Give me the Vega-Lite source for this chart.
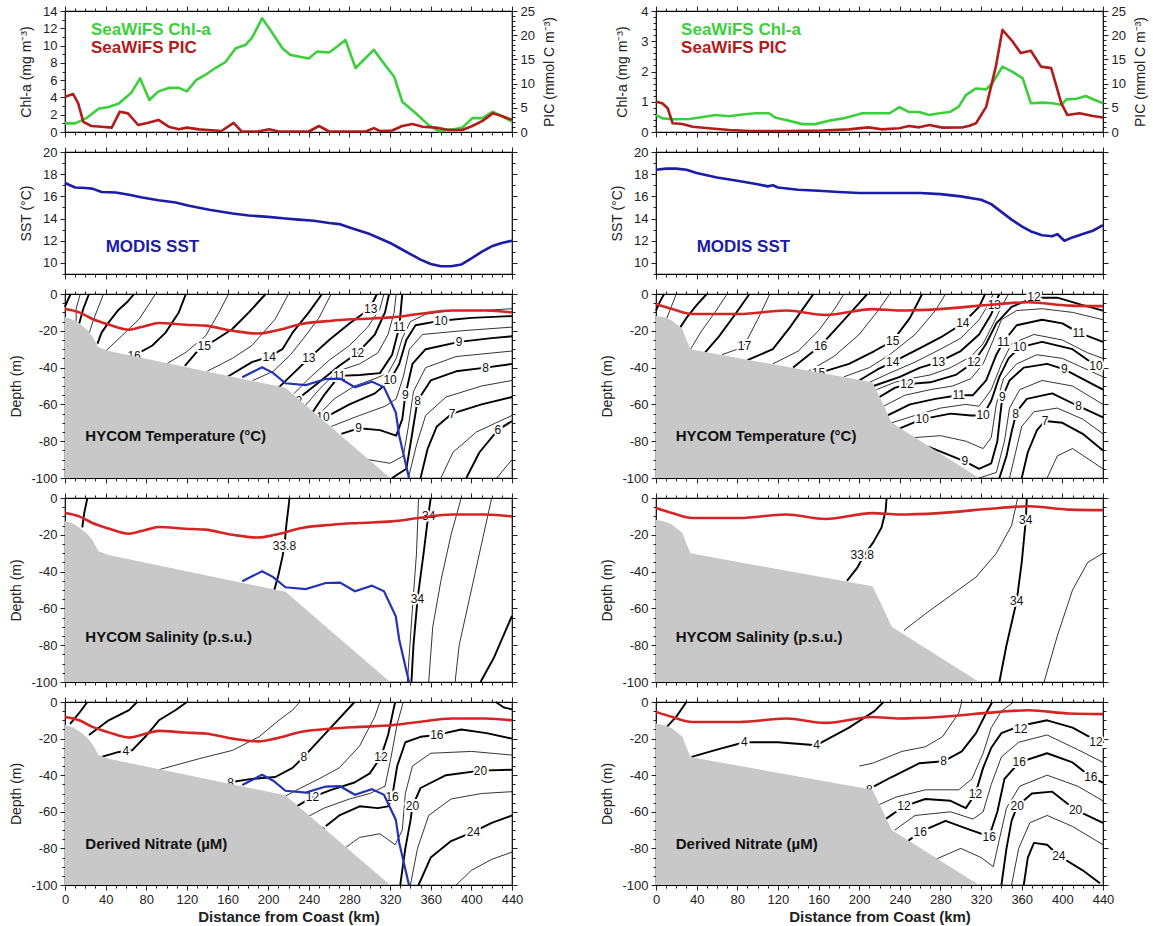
{
  "$schema": "https://vega.github.io/schema/vega-lite/v6.json",
  "background": "white",
  "padding": {"left": 9, "top": 4, "right": 5, "bottom": 2},
  "config": {
    "view": {"stroke": "black", "strokeWidth": 1.2},
    "font": "Liberation Sans",
    "axis": {"domain": false, "grid": false, "labelOverlap": false, "labelFlush": false, "labelFont": "Liberation Sans", "labelFontSize": 13, "labelColor": "#222", "tickColor": "#222", "titleFont": "Liberation Sans", "titleFontSize": 14, "titleFontWeight": "normal", "titleColor": "#222", "labelPadding": 3, "titlePadding": 7}
  },
  "datasets": {
    "chlL": [{"x": [0,10,21,33,43,53,65,74,83,92,102,112,120,129,138,148,158,168,178,184,194,201,214,222,240,248,260,268,276,286,304,316,324,332,345,358,368,381,391,401,411,421,430,440], "v": [1.0,1.0,1.6,2.7,2.9,3.3,4.5,6.2,3.7,4.7,5.1,5.1,4.7,6.0,6.6,7.4,8.1,9.7,10.1,10.9,13.15,12.0,9.7,8.9,8.5,9.3,9.2,9.9,10.65,7.4,9.5,7.6,6.4,3.5,2.2,0.8,0.1,0.3,0.5,1.6,1.6,2.35,1.8,1.2]}],
    "picL": [{"x": [0,8,13,18,26,36,46,54,62,72,82,92,102,112,120,132,141,154,166,174,190,201,210,240,250,260,296,304,310,322,332,342,352,365,378,391,401,411,421,430,440], "v": [7.3,7.85,5.9,2.1,1.24,1.1,0.9,4.2,3.85,1.45,1.9,2.5,1.1,0.55,0.9,0.55,0.4,0.2,1.9,0.1,0.1,0.55,0.1,0.1,1.24,0.1,0.1,0.8,0.2,0.3,1.24,1.65,1.1,0.9,0.4,0.4,1.24,2.3,3.85,3.3,2.5]}],
    "chlR": [{"x": [0,6.5,16,33,43,59,72,85,98,111,118,131,144,157,170,184,197,203,216,230,239.5,249,259,269,279,289,298,305,315,325,331,341,351,361,369,381,390,399,404,414,423,432,440], "v": [0.56,0.45,0.42,0.43,0.48,0.56,0.52,0.58,0.62,0.62,0.47,0.37,0.26,0.26,0.37,0.45,0.56,0.62,0.62,0.62,0.82,0.66,0.66,0.56,0.62,0.66,0.84,1.22,1.44,1.41,1.61,2.16,1.99,1.77,0.95,0.97,0.95,0.9,1.08,1.1,1.19,1.06,0.95]}],
    "picR": [{"x": [0,6.5,11.5,16.4,26,36,52,72,92,131,164,190,209,222,239.5,249,259,269,282,302,308,315,325,334.5,341,351,359,369,379,389,399,405,417,430,440], "v": [6.3,5.9,4.9,1.8,1.65,1.1,0.76,0.4,0.2,0.2,0.3,0.55,0.96,0.55,0.76,1.24,0.96,1.45,0.9,0.96,1.24,1.8,5.2,13.5,21.1,18.7,16.3,16.8,13.5,13.2,5.9,3.5,3.86,3.3,3.0]}],
    "sstL": [{"x": [0,5,10,20,27,36,50,63,76,92,109,122,142,165,181,200,217,230,245,260,270,280,290,300,310,320,330,340,350,360,370,380,390,400,410,420,430,440], "v": [17.2,17.0,16.8,16.75,16.7,16.4,16.35,16.15,15.9,15.65,15.45,15.15,14.8,14.45,14.27,14.15,14.0,13.9,13.8,13.6,13.5,13.2,12.9,12.6,12.2,11.8,11.3,10.8,10.3,9.9,9.7,9.7,9.85,10.4,11.0,11.5,11.8,12.0]}],
    "sstR": [{"x": [0,10,20,30,40,60,80,100,110,115,120,140,160,180,200,220,240,260,280,300,320,330,340,350,360,370,380,390,395,402,410,420,430,440], "v": [18.4,18.5,18.5,18.4,18.1,17.7,17.4,17.1,16.9,17.0,16.8,16.6,16.5,16.4,16.3,16.3,16.3,16.3,16.2,16.0,15.7,15.3,14.6,13.9,13.3,12.8,12.5,12.4,12.6,12.0,12.3,12.6,12.9,13.4]}],
    "bathL": [{"x": [0,8,14,22,27,33,43,217,320], "d": [-12.5,-14,-16,-19.5,-23,-29,-31,-51,-100]}],
    "bathR": [{"x": [0,10,16,26,30,34,43,213,222,232,318], "d": [-11.8,-13,-14.5,-19,-25,-30,-31,-48,-58,-70,-100]}],
    "mldL": [{"x": [0,14,27,43,63,80,92,119,138,165,190,207,233,263,289,322,348,381,414,440], "d": [-8.2,-10,-13.6,-16.6,-19.4,-17.2,-15.8,-16.7,-17.2,-20,-21.5,-20,-16.3,-14.5,-13.6,-12.7,-10.9,-9,-9,-10]}],
    "mldR": [{"x": [0,16,36,82,128,167,213,239.5,279,338,367,407,440], "d": [-5.4,-8.2,-10.9,-10.9,-9,-11.4,-8.2,-9,-8.2,-5.4,-4.5,-6.3,-6.6]}],
    "blueL": [{"x": [174.5,194,205,217,237,256.6,270.7,285.4,302,314,325.6,329,338.6], "d": [-45.3,-39.8,-43,-48.5,-49.5,-46.2,-46,-50.7,-47.6,-50.7,-64.3,-77,-100]}],
    "tL": [
      {"c": "a", "lev": 19, "x": [0,3,5.6], "d": [-7,-3,0]},
      {"c": "b", "lev": 18.5, "x": [11,11,15], "d": [-15,-8,0]},
      {"c": "c", "lev": 18, "x": [14,18,23.6], "d": [-16,-8,0]},
      {"c": "d", "lev": 17.5, "x": [24,28,33,38], "d": [-21,-14,-7,0]},
      {"c": "e", "lev": 17, "x": [32,36,43,52,61,68], "d": [-27,-21,-15.4,-9,-4.5,0]},
      {"c": "f", "lev": 16.5, "x": [40,56,73,86,89], "d": [-31,-22.7,-13.6,-2.7,0]},
      {"c": "g", "lev": 16, "x": [62,68,86,99,112,119], "d": [-34,-33.5,-28,-21,-10,0]},
      {"c": "h", "lev": 15.5, "x": [100,119,138.5,151.6,161], "d": [-38,-31.7,-22.7,-10,0]},
      {"c": "i", "lev": 15, "x": [118,132,148,164.7,181,197.5], "d": [-39,-30,-25,-19,-10,0]},
      {"c": "j", "lev": 14.5, "x": [140,164.7,184,207,220], "d": [-42,-35,-28,-13.6,0]},
      {"c": "k", "lev": 14, "x": [160,184,201,214,224,240,253], "d": [-45,-37,-34,-30,-21,-10,0]},
      {"c": "l", "lev": 13.5, "x": [185,205,222,235,250,262], "d": [-47,-42,-33,-24,-13,0]},
      {"c": "m", "lev": 13, "x": [210,225,240,260,280,300,307], "d": [-51,-43,-35,-25,-16,-8,0]},
      {"c": "n", "lev": 12.5, "x": [222,240,260,280,298,310,314], "d": [-56,-46,-36,-28,-18,-8,0]},
      {"c": "o", "lev": 12, "x": [227,250,270,288,305,315,319], "d": [-58,-48,-39,-32,-22,-10,0]},
      {"c": "p", "lev": 11.5, "x": [236,250,268,290,308,318,324,326], "d": [-61,-52,-42,-38,-32,-22,-10,0]},
      {"c": "q", "lev": 11, "x": [244,255,270,290,310,322,329,332], "d": [-64,-55,-44.5,-44,-43,-33,-18,0]},
      {"c": "r", "lev": 10.5, "x": [249,265,285,305,318,326,332,340,355,380,410,440], "d": [-66,-57,-50,-46,-43,-35,-24,-15,-11,-9,-9,-8]},
      {"c": "s", "lev": 10, "x": [253,280,305,320,329,336,345,370,400,440], "d": [-68,-60,-54,-47,-38,-25,-17,-14.5,-13,-12]},
      {"c": "t", "lev": 9.5, "x": [262,290,315,326,333,339,352,390,440], "d": [-72,-66,-61,-57,-45,-30,-22,-20,-18]},
      {"c": "u", "lev": 9, "x": [272,289,310,326,332,335,342,355,388,420,440], "d": [-76,-73,-74,-77,-68,-55,-38,-30,-26,-24,-23]},
      {"c": "v", "lev": 8.5, "x": [298,320,333,338,343,355,385,440], "d": [-90,-92,-88,-72,-53,-40,-34,-31]},
      {"c": "w", "lev": 8, "x": [322,336,342,347,360,385,414,440], "d": [-100,-95,-75,-58,-47,-42,-40,-38]},
      {"c": "x", "lev": 7.5, "x": [338,346,355,375,410,440], "d": [-100,-82,-66,-56,-50,-47]},
      {"c": "y", "lev": 7, "x": [350,357,366,381,410,440], "d": [-100,-84,-72,-65,-60,-56]},
      {"c": "z", "lev": 6.5, "x": [370,382,405,440], "d": [-100,-86,-75,-66]},
      {"c": "A", "lev": 6, "x": [395,408,426,440], "d": [-100,-86,-74,-69]},
      {"c": "B", "lev": 5.5, "x": [425,440], "d": [-100,-90]}
    ],
    "tLlab": [{"x":68,"d":-33.5,"t":"16"},{"x":137,"d":-28.5,"t":"15"},{"x":201,"d":-34,"t":"14"},{"x":240,"d":-35,"t":"13"},{"x":301,"d":-8,"t":"13"},{"x":288,"d":-32,"t":"12"},{"x":227,"d":-58,"t":"12"},{"x":270,"d":-44.5,"t":"11"},{"x":329,"d":-18,"t":"11"},{"x":320,"d":-47,"t":"10"},{"x":254,"d":-67,"t":"10"},{"x":370,"d":-14.5,"t":"10"},{"x":289,"d":-73,"t":"9"},{"x":335,"d":-55,"t":"9"},{"x":388,"d":-26,"t":"9"},{"x":347,"d":-58,"t":"8"},{"x":414,"d":-40,"t":"8"},{"x":381,"d":-65,"t":"7"},{"x":426,"d":-74,"t":"6"}],
    "tR": [
      {"c": "a", "lev": 20, "x": [0,4,8], "d": [-9,-4,0]},
      {"c": "b", "lev": 19.5, "x": [10,15,20], "d": [-14,-7,0]},
      {"c": "c", "lev": 19, "x": [24,30,40,50], "d": [-18,-13,-6,0]},
      {"c": "d", "lev": 18.5, "x": [34,45,58,70], "d": [-30,-20,-10,0]},
      {"c": "e", "lev": 18, "x": [48,62,78,92], "d": [-32,-23,-11,0]},
      {"c": "f", "lev": 17.5, "x": [65,80,87,100,112], "d": [-33,-30,-27.7,-14,0]},
      {"c": "g", "lev": 17, "x": [90,115,132,146,155], "d": [-36,-30,-18,-7,0]},
      {"c": "h", "lev": 16.5, "x": [115,140,160,176,185], "d": [-38,-31,-20,-8,0]},
      {"c": "i", "lev": 16, "x": [135,162,182,200,208], "d": [-40,-28,-16,-5,0]},
      {"c": "j", "lev": 15.5, "x": [150,175,200,220,230], "d": [-42,-34,-22,-8,0]},
      {"c": "k", "lev": 15, "x": [160,190,215,233,250,262], "d": [-43,-38,-31,-25.5,-13,0]},
      {"c": "l", "lev": 14.5, "x": [185,210,230,255,275,285], "d": [-45,-40,-33,-22,-9,0]},
      {"c": "m", "lev": 14, "x": [200,218,233,258,282,302,318,324], "d": [-47,-41,-37,-30,-23,-16,-7,0]},
      {"c": "n", "lev": 13.5, "x": [210,230,255,280,300,318,328,332], "d": [-48,-43,-37,-30,-24,-14,-5,0]},
      {"c": "o", "lev": 13, "x": [214,240,260,278,300,318,330,334,338], "d": [-50,-45,-40,-37,-31,-22,-11,-5,0]},
      {"c": "p", "lev": 12.5, "x": [217,235,250,270,290,310,322,333,340,347], "d": [-52,-48,-46,-44,-40,-34,-27,-15,-7,0]},
      {"c": "q", "lev": 12, "x": [220,235,247,270,295,313,325,335,350,372,395,420,440], "d": [-56,-51,-49,-48,-44,-37,-27,-16,-7,-2,-2,-6,-9]},
      {"c": "r", "lev": 11.5, "x": [224,245,270,292,310,322,332,340,355,380,410,440], "d": [-61,-55,-52,-50,-46,-38,-25,-14,-9,-8,-10,-14]},
      {"c": "s", "lev": 11, "x": [228,250,275,298,312,325,335,342,355,380,400,416,440], "d": [-66,-60,-57,-55,-55,-47,-33,-26,-17,-14,-16,-21,-26]},
      {"c": "t", "lev": 10.5, "x": [232,255,280,305,318,330,340,350,372,400,425,440], "d": [-70,-66,-62,-60,-61,-52,-38,-27,-22,-25,-32,-35]},
      {"c": "u", "lev": 10, "x": [240,262,290,310,322,330,338,347,358,380,410,433,440], "d": [-73,-68,-65,-66,-66,-58,-45,-35,-29,-26,-30,-39,-41]},
      {"c": "v", "lev": 9.5, "x": [255,280,305,322,330,335,342,355,375,400,440], "d": [-78,-77,-80,-84,-78,-60,-46,-38,-33,-35,-45]},
      {"c": "w", "lev": 9, "x": [268,304,318,330,336,339,341,348,362,385,402,440], "d": [-83,-91,-95,-92,-80,-65,-56,-47,-40,-38,-41,-52]},
      {"c": "x", "lev": 8.5, "x": [318,335,343,348,358,380,410,440], "d": [-100,-97,-80,-62,-52,-47,-50,-60]},
      {"c": "y", "lev": 8, "x": [338,345,350,355,365,390,416,440], "d": [-100,-88,-75,-64,-57,-54,-61,-67]},
      {"c": "z", "lev": 7.5, "x": [348,354,360,372,395,420,440], "d": [-100,-86,-72,-64,-62,-68,-76]},
      {"c": "A", "lev": 7, "x": [360,366,375,383,400,420,440], "d": [-100,-86,-74,-69,-70,-76,-85]},
      {"c": "B", "lev": 6.5, "x": [385,395,410,440], "d": [-100,-88,-84,-95]}
    ],
    "tRlab": [{"x":87,"d":-28,"t":"17"},{"x":162,"d":-28,"t":"16"},{"x":160,"d":-43,"t":"15"},{"x":233,"d":-25.5,"t":"15"},{"x":233,"d":-37,"t":"14"},{"x":302,"d":-16,"t":"14"},{"x":278,"d":-37,"t":"13"},{"x":333,"d":-6,"t":"13"},{"x":247,"d":-49,"t":"12"},{"x":313,"d":-37,"t":"12"},{"x":372,"d":-1.5,"t":"12"},{"x":298,"d":-55,"t":"11"},{"x":342,"d":-26,"t":"11"},{"x":416,"d":-21,"t":"11"},{"x":262,"d":-68,"t":"10"},{"x":322,"d":-66,"t":"10"},{"x":358,"d":-29,"t":"10"},{"x":433,"d":-39,"t":"10"},{"x":304,"d":-91,"t":"9"},{"x":341,"d":-56,"t":"9"},{"x":402,"d":-41,"t":"9"},{"x":354,"d":-65,"t":"8"},{"x":416,"d":-61,"t":"8"},{"x":383,"d":-69,"t":"7"}],
    "sL": [
      {"c": "a", "lev": 33.8, "x": [17,19,22], "d": [-16,-8,0]},
      {"c": "b", "lev": 33.8, "x": [206,210,214,216,218,220,221], "d": [-50,-42,-32,-26,-14,-5,0]},
      {"c": "c", "lev": 33.9, "x": [348,346,342,337], "d": [0,-30,-60,-100]},
      {"c": "d", "lev": 34, "x": [360,357,353,347,343,341], "d": [0,-12,-30,-55,-80,-100]},
      {"c": "e", "lev": 34.1, "x": [390,380,370,362,358], "d": [0,-20,-45,-70,-100]},
      {"c": "f", "lev": 34.1, "x": [420,410,398,388,384], "d": [0,-25,-55,-80,-100]},
      {"c": "g", "lev": 34.2, "x": [409,422,440], "d": [-100,-87,-64]}
    ],
    "sLlab": [{"x":216,"d":-26,"t":"33.8"},{"x":358,"d":-10,"t":"34"},{"x":347,"d":-55,"t":"34"}],
    "sR": [
      {"c": "a", "lev": 33.8, "x": [188,198,205,214,222,226,227], "d": [-45,-38,-31,-24,-16,-7,0]},
      {"c": "b", "lev": 33.9, "x": [244,265,290,315,335,350,356], "d": [-72,-63,-53,-43,-30,-15,0]},
      {"c": "c", "lev": 34, "x": [365,364,360,355,345,338], "d": [0,-12,-35,-56,-80,-100]},
      {"c": "d", "lev": 34.1, "x": [382,395,410,425,440], "d": [-100,-75,-50,-35,-30]}
    ],
    "sRlab": [{"x":203,"d":-31,"t":"33.8"},{"x":364,"d":-12,"t":"34"},{"x":355,"d":-56,"t":"34"}],
    "nL": [
      {"c": "a", "lev": 0, "x": [5,14,22], "d": [-12,-6,0]},
      {"c": "b", "lev": 0, "x": [23.6,43,63,71], "d": [-18,-10,-4.4,0]},
      {"c": "c", "lev": 4, "x": [36,53,66,79,92.5,109,120], "d": [-30,-27.3,-26.4,-19,-10,-4.4,0]},
      {"c": "d", "lev": 6, "x": [92.5,132,165,191,210.5,224,231], "d": [-37,-31,-26.4,-19,-10,-4.4,0]},
      {"c": "e", "lev": 8, "x": [161,184,207,224,235,255,275,285], "d": [-44,-42,-41,-36,-30,-18,-6,0]},
      {"c": "f", "lev": 10, "x": [215,232,250,270,290,305,310], "d": [-52,-47,-42,-36,-24,-8,0]},
      {"c": "g", "lev": 12, "x": [228,243.6,262,285,300,311,318,323,325], "d": [-57,-52,-48,-44,-39,-30,-18,-5,0]},
      {"c": "h", "lev": 14, "x": [238,255,280,300,315,321,327,333], "d": [-63,-58,-53,-50,-46,-30,-12,0]},
      {"c": "i", "lev": 16, "x": [245,270,290,308,318,322,327,335,350,366,390,415,440], "d": [-73,-62,-57,-58,-57,-52,-35,-22,-19,-18,-15,-17,-20]},
      {"c": "j", "lev": 18, "x": [270,290,310,325,332,335,342,360,400,440], "d": [-82,-74,-72,-78,-70,-50,-35,-28,-27,-29]},
      {"c": "k", "lev": 20, "x": [330,335,340,342,350,375,409,440], "d": [-100,-80,-65,-57,-47,-40,-37.5,-37]},
      {"c": "l", "lev": 22, "x": [340,347,358,380,410,440], "d": [-100,-80,-62,-53,-50,-49]},
      {"c": "m", "lev": 24, "x": [348,360,380,402,420,440], "d": [-100,-85,-76,-71,-66,-62]},
      {"c": "n", "lev": 26, "x": [385,400,420,440], "d": [-100,-92,-86,-82]},
      {"c": "o", "lev": 12, "x": [424,432,440], "d": [0,-3,-4]}
    ],
    "nLlab": [{"x":60,"d":-27,"t":"4"},{"x":235,"d":-30,"t":"8"},{"x":163,"d":-44,"t":"8"},{"x":311,"d":-30,"t":"12"},{"x":243.6,"d":-52,"t":"12"},{"x":322,"d":-52,"t":"16"},{"x":250,"d":-71,"t":"16"},{"x":366,"d":-18,"t":"16"},{"x":409,"d":-37.5,"t":"20"},{"x":342,"d":-57,"t":"20"},{"x":402,"d":-71,"t":"24"}],
    "nR": [
      {"c": "a", "lev": 0, "x": [10,20,30], "d": [-14,-8,0]},
      {"c": "b", "lev": 4, "x": [35,60,87,120,158,190,215,224], "d": [-30,-26,-22,-22,-23.6,-14,-5,0]},
      {"c": "c", "lev": 6, "x": [200,213,242,265,282,298,301], "d": [-35,-33.5,-27,-24.5,-19,-6,0]},
      {"c": "d", "lev": 8, "x": [205,215,232,259,283,301,315,325,331], "d": [-49,-46,-41,-33.5,-32.4,-27,-17,-6,0]},
      {"c": "e", "lev": 10, "x": [216,236,265,298,311,322,330,340,352], "d": [-57,-52,-48,-48,-42,-28,-14,-5,0]},
      {"c": "f", "lev": 12, "x": [226,244,265,290,305,314.5,322,330,340,359,385,410,433,440], "d": [-64,-57,-53,-54,-58,-50,-36,-25,-17,-13,-10,-14,-21,-23]},
      {"c": "g", "lev": 14, "x": [235,255,290,312,322,330,340,357,385,415,440], "d": [-70,-62,-60,-64,-60,-45,-30,-22,-18,-26,-33]},
      {"c": "h", "lev": 16, "x": [248,260,285,310,328,336,343,357.5,385,410,428,440], "d": [-76,-71,-65,-70,-73.5,-60,-42,-33,-28,-33,-41,-44]},
      {"c": "i", "lev": 18, "x": [275,300,320,332,338,345,358,385,415,440], "d": [-86,-80,-85,-90,-75,-58,-46,-40,-46,-54]},
      {"c": "j", "lev": 20, "x": [340,345,350,355.5,370,390,413,440], "d": [-100,-80,-65,-57,-50,-49,-59,-66]},
      {"c": "k", "lev": 22, "x": [350,357,368,385,410,440], "d": [-100,-80,-66,-62,-68,-78]},
      {"c": "l", "lev": 24, "x": [362,366,372,385,396.5,420,437], "d": [-100,-85,-77,-78,-84,-92,-99]}
    ],
    "nRlab": [{"x":87,"d":-22,"t":"4"},{"x":158,"d":-23.6,"t":"4"},{"x":283,"d":-32.4,"t":"8"},{"x":210,"d":-48,"t":"8"},{"x":359,"d":-14.5,"t":"12"},{"x":433,"d":-21.8,"t":"12"},{"x":357.5,"d":-33,"t":"16"},{"x":428,"d":-41,"t":"16"},{"x":314.5,"d":-50,"t":"12"},{"x":244,"d":-57,"t":"12"},{"x":355.5,"d":-57,"t":"20"},{"x":413,"d":-59,"t":"20"},{"x":260,"d":-71,"t":"16"},{"x":328,"d":-73.5,"t":"16"},{"x":396.5,"d":-84,"t":"24"}]
  },
  "columns": 2,
  "align": "each",
  "bounds": "flush",
  "spacing": {"row": 20, "column": 144},
  "concat": [
    {
      "width": 447, "height": 121,
      "layer": [
        {"data": {"name": "chlL"}, "transform": [{"flatten": ["x", "v"]}],
         "mark": {"type": "line", "color": "#3ccf3c", "strokeWidth": 2.6, "strokeJoin": "round"},
         "encoding": {
           "x": {"field": "x", "type": "quantitative", "scale": {"domain": [0, 440], "nice": false, "zero": false}, "axis": {"orient": "bottom", "tickCount": 44, "labels": false, "title": null, "tickSize": {"condition": {"test": "datum.value % 40 === 0", "value": 5}, "value": 3}}},
           "y": {"field": "v", "type": "quantitative", "scale": {"domain": [0, 14], "nice": false}, "axis": {"orient": "left", "tickCount": 14, "labelExpr": "datum.value % 2 === 0 ? '' + datum.value : ''", "title": "Chl-a (mg m⁻³)", "titlePadding": 9, "tickSize": {"condition": {"test": "datum.value % 2 === 0", "value": 5}, "value": 3}}},
           "order": {"value": null}}},
        {"data": {"values": [{}]}, "mark": {"type": "text", "text": "SeaWiFS Chl-a", "align": "left", "baseline": "alphabetic", "fontSize": 17, "fontWeight": "bold", "color": "#3ccf3c"},
         "encoding": {"x": {"datum": 25.6, "axis": null}, "y": {"datum": 11.2, "scale": {"domain": [0, 14], "nice": false}, "axis": null}}},
        {"data": {"values": [{}]}, "mark": {"type": "text", "text": "SeaWiFS PIC", "align": "left", "baseline": "alphabetic", "fontSize": 17, "fontWeight": "bold", "color": "#b31b1b"},
         "encoding": {"x": {"datum": 25.6, "axis": null}, "y": {"datum": 9.1, "scale": {"domain": [0, 14], "nice": false}, "axis": null}}},
        {"data": {"name": "picL"}, "transform": [{"flatten": ["x", "v"]}],
         "mark": {"type": "line", "color": "#b31b1b", "strokeWidth": 2.6, "strokeJoin": "round"},
         "encoding": {
           "x": {"field": "x", "type": "quantitative", "axis": {"orient": "top", "tickCount": 44, "labels": false, "title": null, "tickSize": {"condition": {"test": "datum.value % 40 === 0", "value": 5}, "value": 3}}},
           "y": {"field": "v", "type": "quantitative", "scale": {"domain": [0, 25], "nice": false}, "axis": {"orient": "right", "tickCount": 25, "labelExpr": "datum.value % 5 === 0 ? '' + datum.value : ''", "title": "PIC (mmol C m⁻³)", "titleAngle": 270, "titleBaseline": "top", "titlePadding": 8, "tickSize": {"condition": {"test": "datum.value % 5 === 0", "value": 5}, "value": 3}}},
           "order": {"value": null}}}
      ],
      "resolve": {"scale": {"y": "independent"}, "axis": {"x": "independent", "y": "independent"}}
    },
    {
      "width": 447, "height": 121,
      "layer": [
        {"data": {"name": "chlR"}, "transform": [{"flatten": ["x", "v"]}],
         "mark": {"type": "line", "color": "#3ccf3c", "strokeWidth": 2.6, "strokeJoin": "round"},
         "encoding": {
           "x": {"field": "x", "type": "quantitative", "scale": {"domain": [0, 440], "nice": false, "zero": false}, "axis": {"orient": "bottom", "tickCount": 44, "labels": false, "title": null, "tickSize": {"condition": {"test": "datum.value % 40 === 0", "value": 5}, "value": 3}}},
           "y": {"field": "v", "type": "quantitative", "scale": {"domain": [0, 4], "nice": false}, "axis": {"orient": "left", "tickCount": 20, "labelExpr": "datum.value % 1 === 0 ? '' + datum.value : ''", "title": "Chl-a (mg m⁻³)", "titlePadding": 11, "tickSize": {"condition": {"test": "datum.value % 1 === 0", "value": 5}, "value": 3}}},
           "order": {"value": null}}},
        {"data": {"values": [{}]}, "mark": {"type": "text", "text": "SeaWiFS Chl-a", "align": "left", "baseline": "alphabetic", "fontSize": 17, "fontWeight": "bold", "color": "#3ccf3c"},
         "encoding": {"x": {"datum": 24.7, "axis": null}, "y": {"datum": 3.21, "scale": {"domain": [0, 4], "nice": false}, "axis": null}}},
        {"data": {"values": [{}]}, "mark": {"type": "text", "text": "SeaWiFS PIC", "align": "left", "baseline": "alphabetic", "fontSize": 17, "fontWeight": "bold", "color": "#b31b1b"},
         "encoding": {"x": {"datum": 24.7, "axis": null}, "y": {"datum": 2.6, "scale": {"domain": [0, 4], "nice": false}, "axis": null}}},
        {"data": {"name": "picR"}, "transform": [{"flatten": ["x", "v"]}],
         "mark": {"type": "line", "color": "#b31b1b", "strokeWidth": 2.6, "strokeJoin": "round"},
         "encoding": {
           "x": {"field": "x", "type": "quantitative", "axis": {"orient": "top", "tickCount": 44, "labels": false, "title": null, "tickSize": {"condition": {"test": "datum.value % 40 === 0", "value": 5}, "value": 3}}},
           "y": {"field": "v", "type": "quantitative", "scale": {"domain": [0, 25], "nice": false}, "axis": {"orient": "right", "tickCount": 25, "labelExpr": "datum.value % 5 === 0 ? '' + datum.value : ''", "title": "PIC (mmol C m⁻³)", "titleAngle": 270, "titleBaseline": "top", "titlePadding": 8, "tickSize": {"condition": {"test": "datum.value % 5 === 0", "value": 5}, "value": 3}}},
           "order": {"value": null}}}
      ],
      "resolve": {"scale": {"y": "independent"}, "axis": {"x": "independent", "y": "independent"}}
    },
    {
      "width": 447, "height": 122,
      "layer": [
        {"data": {"name": "sstL"}, "transform": [{"flatten": ["x", "v"]}],
         "mark": {"type": "line", "color": "#1c1ca8", "strokeWidth": 2.6, "strokeJoin": "round"},
         "encoding": {
           "x": {"field": "x", "type": "quantitative", "scale": {"domain": [0, 440], "nice": false, "zero": false}, "axis": {"orient": "bottom", "tickCount": 44, "labels": false, "title": null, "tickSize": {"condition": {"test": "datum.value % 40 === 0", "value": 5}, "value": 3}}},
           "y": {"field": "v", "type": "quantitative", "scale": {"domain": [9, 20], "nice": false, "zero": false}, "axis": {"orient": "left", "tickCount": 11, "labelExpr": "datum.value % 2 === 0 ? '' + datum.value : ''", "title": "SST (°C)", "titlePadding": 9, "tickSize": {"condition": {"test": "datum.value % 2 === 0", "value": 5}, "value": 3}}},
           "order": {"value": null}}},
        {"data": {"values": [{}]}, "mark": {"type": "text", "text": "MODIS SST", "align": "left", "baseline": "alphabetic", "fontSize": 17, "fontWeight": "bold", "color": "#1c1ca8"},
         "encoding": {"x": {"datum": 40, "axis": null}, "y": {"datum": 11.0, "axis": null}}},
        {"data": {"values": []}, "mark": "point",
         "encoding": {
           "x": {"field": "x", "type": "quantitative", "axis": {"orient": "top", "tickCount": 44, "labels": false, "title": null, "tickSize": {"condition": {"test": "datum.value % 40 === 0", "value": 5}, "value": 3}}},
           "y": {"field": "v", "type": "quantitative", "axis": {"orient": "right", "tickCount": 11, "labels": false, "title": null, "tickSize": {"condition": {"test": "datum.value % 2 === 0", "value": 5}, "value": 3}}}}}
      ],
      "resolve": {"axis": {"x": "independent", "y": "independent"}}
    },
    {
      "width": 447, "height": 122,
      "layer": [
        {"data": {"name": "sstR"}, "transform": [{"flatten": ["x", "v"]}],
         "mark": {"type": "line", "color": "#1c1ca8", "strokeWidth": 2.6, "strokeJoin": "round"},
         "encoding": {
           "x": {"field": "x", "type": "quantitative", "scale": {"domain": [0, 440], "nice": false, "zero": false}, "axis": {"orient": "bottom", "tickCount": 44, "labels": false, "title": null, "tickSize": {"condition": {"test": "datum.value % 40 === 0", "value": 5}, "value": 3}}},
           "y": {"field": "v", "type": "quantitative", "scale": {"domain": [9, 20], "nice": false, "zero": false}, "axis": {"orient": "left", "tickCount": 11, "labelExpr": "datum.value % 2 === 0 ? '' + datum.value : ''", "title": "SST (°C)", "titlePadding": 9, "tickSize": {"condition": {"test": "datum.value % 2 === 0", "value": 5}, "value": 3}}},
           "order": {"value": null}}},
        {"data": {"values": [{}]}, "mark": {"type": "text", "text": "MODIS SST", "align": "left", "baseline": "alphabetic", "fontSize": 17, "fontWeight": "bold", "color": "#1c1ca8"},
         "encoding": {"x": {"datum": 40, "axis": null}, "y": {"datum": 11.0, "axis": null}}},
        {"data": {"values": []}, "mark": "point",
         "encoding": {
           "x": {"field": "x", "type": "quantitative", "axis": {"orient": "top", "tickCount": 44, "labels": false, "title": null, "tickSize": {"condition": {"test": "datum.value % 40 === 0", "value": 5}, "value": 3}}},
           "y": {"field": "v", "type": "quantitative", "axis": {"orient": "right", "tickCount": 11, "labels": false, "title": null, "tickSize": {"condition": {"test": "datum.value % 2 === 0", "value": 5}, "value": 3}}}}}
      ],
      "resolve": {"axis": {"x": "independent", "y": "independent"}}
    },
    {
      "width": 447, "height": 184,
      "layer": [
        {"data": {"name": "tL"}, "transform": [{"flatten": ["x", "d"]}],
         "mark": {"type": "line", "color": "black", "strokeJoin": "round"},
         "encoding": {
           "x": {"field": "x", "type": "quantitative", "scale": {"domain": [0, 440], "nice": false, "zero": false}, "axis": {"orient": "bottom", "tickCount": 44, "labels": false, "title": null, "tickSize": {"condition": {"test": "datum.value % 40 === 0", "value": 5}, "value": 3}}},
           "y": {"field": "d", "type": "quantitative", "scale": {"domain": [-100, 0], "nice": false, "zero": false}, "axis": {"orient": "left", "tickCount": 20, "labelExpr": "datum.value % 20 === 0 ? '' + datum.value : ''", "title": "Depth (m)", "tickSize": {"condition": {"test": "datum.value % 20 === 0", "value": 5}, "value": 3}}},
           "detail": {"field": "c"},
           "order": {"value": null},
           "strokeWidth": {"condition": {"test": "datum.lev % 1 === 0", "value": 1.9}, "value": 0.8}}},
        {"data": {"name": "tLlab"}, "mark": {"type": "text", "fontSize": 12, "stroke": "white", "strokeWidth": 4, "fill": "white"},
         "encoding": {"x": {"field": "x", "type": "quantitative", "axis": null}, "y": {"field": "d", "type": "quantitative", "axis": null}, "text": {"field": "t"}}},
        {"data": {"name": "tLlab"}, "mark": {"type": "text", "fontSize": 12, "color": "#111"},
         "encoding": {"x": {"field": "x", "type": "quantitative", "axis": null}, "y": {"field": "d", "type": "quantitative", "axis": null}, "text": {"field": "t"}}},
        {"data": {"name": "bathL"}, "transform": [{"flatten": ["x", "d"]}], "mark": {"type": "area", "color": "#c8c8c8"},
         "encoding": {"x": {"field": "x", "type": "quantitative", "axis": null}, "y": {"field": "d", "type": "quantitative", "axis": null}, "y2": {"datum": -100}}},
        {"data": {"name": "mldL"}, "transform": [{"flatten": ["x", "d"]}], "mark": {"type": "line", "color": "#d42424", "strokeWidth": 2.6, "interpolate": "monotone"},
         "encoding": {"x": {"field": "x", "type": "quantitative", "axis": null}, "y": {"field": "d", "type": "quantitative", "axis": null}, "order": {"value": null}}},
        {"data": {"name": "blueL"}, "transform": [{"flatten": ["x", "d"]}], "mark": {"type": "line", "color": "#2233b8", "strokeWidth": 2.2},
         "encoding": {"x": {"field": "x", "type": "quantitative", "axis": null}, "y": {"field": "d", "type": "quantitative", "axis": null}, "order": {"value": null}}},
        {"data": {"values": [{}]}, "mark": {"type": "text", "text": "HYCOM Temperature (°C)", "align": "left", "baseline": "alphabetic", "fontSize": 15, "fontWeight": "bold", "color": "#111"},
         "encoding": {"x": {"datum": 20, "axis": null}, "y": {"datum": -80, "axis": null}}},
        {"data": {"values": []}, "mark": "point",
         "encoding": {
           "x": {"field": "x", "type": "quantitative", "axis": {"orient": "top", "tickCount": 44, "labels": false, "title": null, "tickSize": {"condition": {"test": "datum.value % 40 === 0", "value": 5}, "value": 3}}},
           "y": {"field": "d", "type": "quantitative", "axis": {"orient": "right", "tickCount": 20, "labels": false, "title": null, "tickSize": {"condition": {"test": "datum.value % 20 === 0", "value": 5}, "value": 3}}}}}
      ],
      "resolve": {"axis": {"x": "independent", "y": "independent"}}
    },
    {
      "width": 447, "height": 184,
      "layer": [
        {"data": {"name": "tR"}, "transform": [{"flatten": ["x", "d"]}],
         "mark": {"type": "line", "color": "black", "strokeJoin": "round"},
         "encoding": {
           "x": {"field": "x", "type": "quantitative", "scale": {"domain": [0, 440], "nice": false, "zero": false}, "axis": {"orient": "bottom", "tickCount": 44, "labels": false, "title": null, "tickSize": {"condition": {"test": "datum.value % 40 === 0", "value": 5}, "value": 3}}},
           "y": {"field": "d", "type": "quantitative", "scale": {"domain": [-100, 0], "nice": false, "zero": false}, "axis": {"orient": "left", "tickCount": 20, "labelExpr": "datum.value % 20 === 0 ? '' + datum.value : ''", "title": "Depth (m)", "tickSize": {"condition": {"test": "datum.value % 20 === 0", "value": 5}, "value": 3}}},
           "detail": {"field": "c"},
           "order": {"value": null},
           "strokeWidth": {"condition": {"test": "datum.lev % 1 === 0", "value": 1.9}, "value": 0.8}}},
        {"data": {"name": "tRlab"}, "mark": {"type": "text", "fontSize": 12, "stroke": "white", "strokeWidth": 4, "fill": "white"},
         "encoding": {"x": {"field": "x", "type": "quantitative", "axis": null}, "y": {"field": "d", "type": "quantitative", "axis": null}, "text": {"field": "t"}}},
        {"data": {"name": "tRlab"}, "mark": {"type": "text", "fontSize": 12, "color": "#111"},
         "encoding": {"x": {"field": "x", "type": "quantitative", "axis": null}, "y": {"field": "d", "type": "quantitative", "axis": null}, "text": {"field": "t"}}},
        {"data": {"name": "bathR"}, "transform": [{"flatten": ["x", "d"]}], "mark": {"type": "area", "color": "#c8c8c8"},
         "encoding": {"x": {"field": "x", "type": "quantitative", "axis": null}, "y": {"field": "d", "type": "quantitative", "axis": null}, "y2": {"datum": -100}}},
        {"data": {"name": "mldR"}, "transform": [{"flatten": ["x", "d"]}], "mark": {"type": "line", "color": "#d42424", "strokeWidth": 2.6, "interpolate": "monotone"},
         "encoding": {"x": {"field": "x", "type": "quantitative", "axis": null}, "y": {"field": "d", "type": "quantitative", "axis": null}, "order": {"value": null}}},
        {"data": {"values": [{}]}, "mark": {"type": "text", "text": "HYCOM Temperature (°C)", "align": "left", "baseline": "alphabetic", "fontSize": 15, "fontWeight": "bold", "color": "#111"},
         "encoding": {"x": {"datum": 19.4, "axis": null}, "y": {"datum": -80, "axis": null}}},
        {"data": {"values": []}, "mark": "point",
         "encoding": {
           "x": {"field": "x", "type": "quantitative", "axis": {"orient": "top", "tickCount": 44, "labels": false, "title": null, "tickSize": {"condition": {"test": "datum.value % 40 === 0", "value": 5}, "value": 3}}},
           "y": {"field": "d", "type": "quantitative", "axis": {"orient": "right", "tickCount": 20, "labels": false, "title": null, "tickSize": {"condition": {"test": "datum.value % 20 === 0", "value": 5}, "value": 3}}}}}
      ],
      "resolve": {"axis": {"x": "independent", "y": "independent"}}
    },
    {
      "width": 447, "height": 184,
      "layer": [
        {"data": {"name": "sL"}, "transform": [{"flatten": ["x", "d"]}],
         "mark": {"type": "line", "color": "black", "strokeJoin": "round"},
         "encoding": {
           "x": {"field": "x", "type": "quantitative", "scale": {"domain": [0, 440], "nice": false, "zero": false}, "axis": {"orient": "bottom", "tickCount": 44, "labels": false, "title": null, "tickSize": {"condition": {"test": "datum.value % 40 === 0", "value": 5}, "value": 3}}},
           "y": {"field": "d", "type": "quantitative", "scale": {"domain": [-100, 0], "nice": false, "zero": false}, "axis": {"orient": "left", "tickCount": 20, "labelExpr": "datum.value % 20 === 0 ? '' + datum.value : ''", "title": "Depth (m)", "tickSize": {"condition": {"test": "datum.value % 20 === 0", "value": 5}, "value": 3}}},
           "detail": {"field": "c"},
           "order": {"value": null},
           "strokeWidth": {"condition": {"test": "round(datum.lev * 10) % 2 === 0", "value": 1.9}, "value": 0.8}}},
        {"data": {"name": "sLlab"}, "mark": {"type": "text", "fontSize": 12, "stroke": "white", "strokeWidth": 4, "fill": "white"},
         "encoding": {"x": {"field": "x", "type": "quantitative", "axis": null}, "y": {"field": "d", "type": "quantitative", "axis": null}, "text": {"field": "t"}}},
        {"data": {"name": "sLlab"}, "mark": {"type": "text", "fontSize": 12, "color": "#111"},
         "encoding": {"x": {"field": "x", "type": "quantitative", "axis": null}, "y": {"field": "d", "type": "quantitative", "axis": null}, "text": {"field": "t"}}},
        {"data": {"name": "bathL"}, "transform": [{"flatten": ["x", "d"]}], "mark": {"type": "area", "color": "#c8c8c8"},
         "encoding": {"x": {"field": "x", "type": "quantitative", "axis": null}, "y": {"field": "d", "type": "quantitative", "axis": null}, "y2": {"datum": -100}}},
        {"data": {"name": "mldL"}, "transform": [{"flatten": ["x", "d"]}], "mark": {"type": "line", "color": "#d42424", "strokeWidth": 2.6, "interpolate": "monotone"},
         "encoding": {"x": {"field": "x", "type": "quantitative", "axis": null}, "y": {"field": "d", "type": "quantitative", "axis": null}, "order": {"value": null}}},
        {"data": {"name": "blueL"}, "transform": [{"flatten": ["x", "d"]}], "mark": {"type": "line", "color": "#2233b8", "strokeWidth": 2.2},
         "encoding": {"x": {"field": "x", "type": "quantitative", "axis": null}, "y": {"field": "d", "type": "quantitative", "axis": null}, "order": {"value": null}}},
        {"data": {"values": [{}]}, "mark": {"type": "text", "text": "HYCOM Salinity (p.s.u.)", "align": "left", "baseline": "alphabetic", "fontSize": 15, "fontWeight": "bold", "color": "#111"},
         "encoding": {"x": {"datum": 20, "axis": null}, "y": {"datum": -78, "axis": null}}},
        {"data": {"values": []}, "mark": "point",
         "encoding": {
           "x": {"field": "x", "type": "quantitative", "axis": {"orient": "top", "tickCount": 44, "labels": false, "title": null, "tickSize": {"condition": {"test": "datum.value % 40 === 0", "value": 5}, "value": 3}}},
           "y": {"field": "d", "type": "quantitative", "axis": {"orient": "right", "tickCount": 20, "labels": false, "title": null, "tickSize": {"condition": {"test": "datum.value % 20 === 0", "value": 5}, "value": 3}}}}}
      ],
      "resolve": {"axis": {"x": "independent", "y": "independent"}}
    },
    {
      "width": 447, "height": 184,
      "layer": [
        {"data": {"name": "sR"}, "transform": [{"flatten": ["x", "d"]}],
         "mark": {"type": "line", "color": "black", "strokeJoin": "round"},
         "encoding": {
           "x": {"field": "x", "type": "quantitative", "scale": {"domain": [0, 440], "nice": false, "zero": false}, "axis": {"orient": "bottom", "tickCount": 44, "labels": false, "title": null, "tickSize": {"condition": {"test": "datum.value % 40 === 0", "value": 5}, "value": 3}}},
           "y": {"field": "d", "type": "quantitative", "scale": {"domain": [-100, 0], "nice": false, "zero": false}, "axis": {"orient": "left", "tickCount": 20, "labelExpr": "datum.value % 20 === 0 ? '' + datum.value : ''", "title": "Depth (m)", "tickSize": {"condition": {"test": "datum.value % 20 === 0", "value": 5}, "value": 3}}},
           "detail": {"field": "c"},
           "order": {"value": null},
           "strokeWidth": {"condition": {"test": "round(datum.lev * 10) % 2 === 0", "value": 1.9}, "value": 0.8}}},
        {"data": {"name": "sRlab"}, "mark": {"type": "text", "fontSize": 12, "stroke": "white", "strokeWidth": 4, "fill": "white"},
         "encoding": {"x": {"field": "x", "type": "quantitative", "axis": null}, "y": {"field": "d", "type": "quantitative", "axis": null}, "text": {"field": "t"}}},
        {"data": {"name": "sRlab"}, "mark": {"type": "text", "fontSize": 12, "color": "#111"},
         "encoding": {"x": {"field": "x", "type": "quantitative", "axis": null}, "y": {"field": "d", "type": "quantitative", "axis": null}, "text": {"field": "t"}}},
        {"data": {"name": "bathR"}, "transform": [{"flatten": ["x", "d"]}], "mark": {"type": "area", "color": "#c8c8c8"},
         "encoding": {"x": {"field": "x", "type": "quantitative", "axis": null}, "y": {"field": "d", "type": "quantitative", "axis": null}, "y2": {"datum": -100}}},
        {"data": {"name": "mldR"}, "transform": [{"flatten": ["x", "d"]}], "mark": {"type": "line", "color": "#d42424", "strokeWidth": 2.6, "interpolate": "monotone"},
         "encoding": {"x": {"field": "x", "type": "quantitative", "axis": null}, "y": {"field": "d", "type": "quantitative", "axis": null}, "order": {"value": null}}},
        {"data": {"values": [{}]}, "mark": {"type": "text", "text": "HYCOM Salinity (p.s.u.)", "align": "left", "baseline": "alphabetic", "fontSize": 15, "fontWeight": "bold", "color": "#111"},
         "encoding": {"x": {"datum": 19.4, "axis": null}, "y": {"datum": -78, "axis": null}}},
        {"data": {"values": []}, "mark": "point",
         "encoding": {
           "x": {"field": "x", "type": "quantitative", "axis": {"orient": "top", "tickCount": 44, "labels": false, "title": null, "tickSize": {"condition": {"test": "datum.value % 40 === 0", "value": 5}, "value": 3}}},
           "y": {"field": "d", "type": "quantitative", "axis": {"orient": "right", "tickCount": 20, "labels": false, "title": null, "tickSize": {"condition": {"test": "datum.value % 20 === 0", "value": 5}, "value": 3}}}}}
      ],
      "resolve": {"axis": {"x": "independent", "y": "independent"}}
    },
    {
      "width": 447, "height": 183,
      "layer": [
        {"data": {"name": "nL"}, "transform": [{"flatten": ["x", "d"]}],
         "mark": {"type": "line", "color": "black", "strokeJoin": "round"},
         "encoding": {
           "x": {"field": "x", "type": "quantitative", "scale": {"domain": [0, 440], "nice": false, "zero": false}, "axis": {"orient": "bottom", "tickCount": 44, "labelExpr": "datum.value % 40 === 0 ? '' + datum.value : ''", "labelPadding": 3, "title": "Distance from Coast (km)", "titleFontWeight": "bold", "titleFontSize": 15, "titlePadding": 3, "tickSize": {"condition": {"test": "datum.value % 40 === 0", "value": 5}, "value": 3}}},
           "y": {"field": "d", "type": "quantitative", "scale": {"domain": [-100, 0], "nice": false, "zero": false}, "axis": {"orient": "left", "tickCount": 20, "labelExpr": "datum.value % 20 === 0 ? '' + datum.value : ''", "title": "Depth (m)", "tickSize": {"condition": {"test": "datum.value % 20 === 0", "value": 5}, "value": 3}}},
           "detail": {"field": "c"},
           "order": {"value": null},
           "strokeWidth": {"condition": {"test": "datum.lev % 4 === 0", "value": 1.9}, "value": 0.8}}},
        {"data": {"name": "nLlab"}, "mark": {"type": "text", "fontSize": 12, "stroke": "white", "strokeWidth": 4, "fill": "white"},
         "encoding": {"x": {"field": "x", "type": "quantitative", "axis": null}, "y": {"field": "d", "type": "quantitative", "axis": null}, "text": {"field": "t"}}},
        {"data": {"name": "nLlab"}, "mark": {"type": "text", "fontSize": 12, "color": "#111"},
         "encoding": {"x": {"field": "x", "type": "quantitative", "axis": null}, "y": {"field": "d", "type": "quantitative", "axis": null}, "text": {"field": "t"}}},
        {"data": {"name": "bathL"}, "transform": [{"flatten": ["x", "d"]}], "mark": {"type": "area", "color": "#c8c8c8"},
         "encoding": {"x": {"field": "x", "type": "quantitative", "axis": null}, "y": {"field": "d", "type": "quantitative", "axis": null}, "y2": {"datum": -100}}},
        {"data": {"name": "mldL"}, "transform": [{"flatten": ["x", "d"]}], "mark": {"type": "line", "color": "#d42424", "strokeWidth": 2.6, "interpolate": "monotone"},
         "encoding": {"x": {"field": "x", "type": "quantitative", "axis": null}, "y": {"field": "d", "type": "quantitative", "axis": null}, "order": {"value": null}}},
        {"data": {"name": "blueL"}, "transform": [{"flatten": ["x", "d"]}], "mark": {"type": "line", "color": "#2233b8", "strokeWidth": 2.2},
         "encoding": {"x": {"field": "x", "type": "quantitative", "axis": null}, "y": {"field": "d", "type": "quantitative", "axis": null}, "order": {"value": null}}},
        {"data": {"values": [{}]}, "mark": {"type": "text", "text": "Derived Nitrate (µM)", "align": "left", "baseline": "alphabetic", "fontSize": 15, "fontWeight": "bold", "color": "#111"},
         "encoding": {"x": {"datum": 20, "axis": null}, "y": {"datum": -80.4, "axis": null}}},
        {"data": {"values": []}, "mark": "point",
         "encoding": {
           "x": {"field": "x", "type": "quantitative", "axis": {"orient": "top", "tickCount": 44, "labels": false, "title": null, "tickSize": {"condition": {"test": "datum.value % 40 === 0", "value": 5}, "value": 3}}},
           "y": {"field": "d", "type": "quantitative", "axis": {"orient": "right", "tickCount": 20, "labels": false, "title": null, "tickSize": {"condition": {"test": "datum.value % 20 === 0", "value": 5}, "value": 3}}}}}
      ],
      "resolve": {"axis": {"x": "independent", "y": "independent"}}
    },
    {
      "width": 447, "height": 183,
      "layer": [
        {"data": {"name": "nR"}, "transform": [{"flatten": ["x", "d"]}],
         "mark": {"type": "line", "color": "black", "strokeJoin": "round"},
         "encoding": {
           "x": {"field": "x", "type": "quantitative", "scale": {"domain": [0, 440], "nice": false, "zero": false}, "axis": {"orient": "bottom", "tickCount": 44, "labelExpr": "datum.value % 40 === 0 ? '' + datum.value : ''", "labelPadding": 3, "title": "Distance from Coast (km)", "titleFontWeight": "bold", "titleFontSize": 15, "titlePadding": 3, "tickSize": {"condition": {"test": "datum.value % 40 === 0", "value": 5}, "value": 3}}},
           "y": {"field": "d", "type": "quantitative", "scale": {"domain": [-100, 0], "nice": false, "zero": false}, "axis": {"orient": "left", "tickCount": 20, "labelExpr": "datum.value % 20 === 0 ? '' + datum.value : ''", "title": "Depth (m)", "tickSize": {"condition": {"test": "datum.value % 20 === 0", "value": 5}, "value": 3}}},
           "detail": {"field": "c"},
           "order": {"value": null},
           "strokeWidth": {"condition": {"test": "datum.lev % 4 === 0", "value": 1.9}, "value": 0.8}}},
        {"data": {"name": "nRlab"}, "mark": {"type": "text", "fontSize": 12, "stroke": "white", "strokeWidth": 4, "fill": "white"},
         "encoding": {"x": {"field": "x", "type": "quantitative", "axis": null}, "y": {"field": "d", "type": "quantitative", "axis": null}, "text": {"field": "t"}}},
        {"data": {"name": "nRlab"}, "mark": {"type": "text", "fontSize": 12, "color": "#111"},
         "encoding": {"x": {"field": "x", "type": "quantitative", "axis": null}, "y": {"field": "d", "type": "quantitative", "axis": null}, "text": {"field": "t"}}},
        {"data": {"name": "bathR"}, "transform": [{"flatten": ["x", "d"]}], "mark": {"type": "area", "color": "#c8c8c8"},
         "encoding": {"x": {"field": "x", "type": "quantitative", "axis": null}, "y": {"field": "d", "type": "quantitative", "axis": null}, "y2": {"datum": -100}}},
        {"data": {"name": "mldR"}, "transform": [{"flatten": ["x", "d"]}], "mark": {"type": "line", "color": "#d42424", "strokeWidth": 2.6, "interpolate": "monotone"},
         "encoding": {"x": {"field": "x", "type": "quantitative", "axis": null}, "y": {"field": "d", "type": "quantitative", "axis": null}, "order": {"value": null}}},
        {"data": {"values": [{}]}, "mark": {"type": "text", "text": "Derived Nitrate (µM)", "align": "left", "baseline": "alphabetic", "fontSize": 15, "fontWeight": "bold", "color": "#111"},
         "encoding": {"x": {"datum": 19.4, "axis": null}, "y": {"datum": -80.4, "axis": null}}},
        {"data": {"values": []}, "mark": "point",
         "encoding": {
           "x": {"field": "x", "type": "quantitative", "axis": {"orient": "top", "tickCount": 44, "labels": false, "title": null, "tickSize": {"condition": {"test": "datum.value % 40 === 0", "value": 5}, "value": 3}}},
           "y": {"field": "d", "type": "quantitative", "axis": {"orient": "right", "tickCount": 20, "labels": false, "title": null, "tickSize": {"condition": {"test": "datum.value % 20 === 0", "value": 5}, "value": 3}}}}}
      ],
      "resolve": {"axis": {"x": "independent", "y": "independent"}}
    }
  ]
}
